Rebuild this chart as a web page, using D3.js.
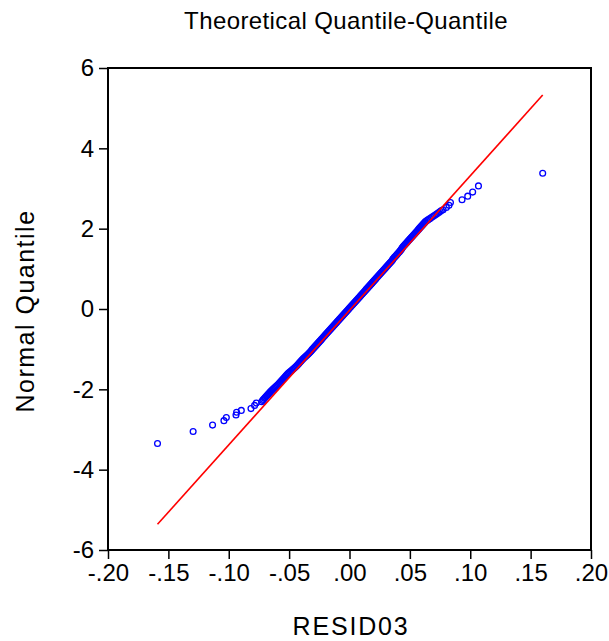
<!DOCTYPE html>
<html>
<head>
<meta charset="utf-8">
<script src="https://cdn.jsdelivr.net/npm/d3@7"></script>
<style>
  body { margin: 0; background: #fff; }
  text { font-family: "Liberation Sans", Arial, sans-serif; fill: #000; }
</style>
</head>
<body>
<div class="svgContainer"></div>
<script>
// Statics
var TITLE = "Theoretical Quantile-Quantile";
var X_LABEL = "RESID03";
var Y_LABEL = "Normal Quantile";
var X_TICKS = [-0.20, -0.15, -0.10, -0.05, 0.00, 0.05, 0.10, 0.15, 0.20];
var Y_TICKS = [-6, -4, -2, 0, 2, 4, 6];

// Lower tail outliers: residual / normal quantile pairs
var TAIL_LO_X = [-0.159, -0.1295, -0.1134, -0.104, -0.102, -0.094, -0.0935, -0.0896, -0.0816, -0.0786, -0.0772, -0.0728];
var TAIL_LO_Y = [-3.35, -3.05, -2.89, -2.78, -2.70, -2.64, -2.57, -2.525, -2.48, -2.40, -2.34, -2.31];

// Dense body of the plot, quantiles -2.275 .. 2.45 every 0.025, residuals read along the band
var BODY_Y = [-2.275, -2.25, -2.225, -2.2, -2.175, -2.15, -2.125, -2.1, -2.075, -2.05, -2.025, -2.0,
    -1.975, -1.95, -1.925, -1.9, -1.875, -1.85, -1.825, -1.8, -1.775, -1.75, -1.725, -1.7,
    -1.675, -1.65, -1.625, -1.6, -1.575, -1.55, -1.525, -1.5, -1.475, -1.45, -1.425, -1.4,
    -1.375, -1.35, -1.325, -1.3, -1.275, -1.25, -1.225, -1.2, -1.175, -1.15, -1.125, -1.1,
    -1.075, -1.05, -1.025, -1.0, -0.975, -0.95, -0.925, -0.9, -0.875, -0.85, -0.825, -0.8,
    -0.775, -0.75, -0.725, -0.7, -0.675, -0.65, -0.625, -0.6, -0.575, -0.55, -0.525, -0.5,
    -0.475, -0.45, -0.425, -0.4, -0.375, -0.35, -0.325, -0.3, -0.275, -0.25, -0.225, -0.2,
    -0.175, -0.15, -0.125, -0.1, -0.075, -0.05, -0.025, 0.0, 0.025, 0.05, 0.075, 0.1,
    0.125, 0.15, 0.175, 0.2, 0.225, 0.25, 0.275, 0.3, 0.325, 0.35, 0.375, 0.4,
    0.425, 0.45, 0.475, 0.5, 0.525, 0.55, 0.575, 0.6, 0.625, 0.65, 0.675, 0.7,
    0.725, 0.75, 0.775, 0.8, 0.825, 0.85, 0.875, 0.9, 0.925, 0.95, 0.975, 1.0,
    1.025, 1.05, 1.075, 1.1, 1.125, 1.15, 1.175, 1.2, 1.225, 1.25, 1.275, 1.3,
    1.325, 1.35, 1.375, 1.4, 1.425, 1.45, 1.475, 1.5, 1.525, 1.55, 1.575, 1.6,
    1.625, 1.65, 1.675, 1.7, 1.725, 1.75, 1.775, 1.8, 1.825, 1.85, 1.875, 1.9,
    1.925, 1.95, 1.975, 2.0, 2.025, 2.05, 2.075, 2.1, 2.125, 2.15, 2.175, 2.2,
    2.225, 2.25, 2.275, 2.3, 2.325, 2.35, 2.375, 2.4, 2.425, 2.45];
var BODY_X = [-0.0719, -0.0712, -0.0704, -0.0697, -0.0689, -0.0682, -0.0674, -0.0667, -0.0659, -0.0652, -0.0643, -0.0635,
    -0.0626, -0.0617, -0.0608, -0.0599, -0.0590, -0.0582, -0.0575, -0.0567, -0.0560, -0.0552, -0.0545, -0.0537,
    -0.0530, -0.0523, -0.0515, -0.0508, -0.0498, -0.0488, -0.0478, -0.0469, -0.0459, -0.0450, -0.0441, -0.0433,
    -0.0425, -0.0418, -0.0411, -0.0403, -0.0396, -0.0388, -0.0380, -0.0371, -0.0362, -0.0353, -0.0344, -0.0336,
    -0.0328, -0.0320, -0.0313, -0.0306, -0.0298, -0.0291, -0.0283, -0.0276, -0.0268, -0.0261, -0.0253, -0.0246,
    -0.0238, -0.0231, -0.0223, -0.0216, -0.0208, -0.0201, -0.0194, -0.0186, -0.0179, -0.0171, -0.0164, -0.0156,
    -0.0149, -0.0141, -0.0134, -0.0126, -0.0119, -0.0111, -0.0104, -0.0097, -0.0089, -0.0082, -0.0074, -0.0067,
    -0.0059, -0.0052, -0.0044, -0.0037, -0.0029, -0.0022, -0.0014, -0.0007, 0.0000, 0.0008, 0.0015, 0.0023,
    0.0030, 0.0038, 0.0045, 0.0053, 0.0060, 0.0068, 0.0075, 0.0083, 0.0090, 0.0097, 0.0105, 0.0112,
    0.0120, 0.0127, 0.0135, 0.0142, 0.0150, 0.0157, 0.0165, 0.0172, 0.0180, 0.0187, 0.0194, 0.0202,
    0.0209, 0.0217, 0.0224, 0.0232, 0.0239, 0.0247, 0.0254, 0.0262, 0.0269, 0.0277, 0.0284, 0.0292,
    0.0299, 0.0306, 0.0314, 0.0321, 0.0329, 0.0336, 0.0344, 0.0351, 0.0357, 0.0361, 0.0369, 0.0376,
    0.0384, 0.0391, 0.0398, 0.0406, 0.0413, 0.0420, 0.0426, 0.0432, 0.0437, 0.0443, 0.0450, 0.0458,
    0.0465, 0.0473, 0.0480, 0.0487, 0.0495, 0.0502, 0.0510, 0.0517, 0.0525, 0.0532, 0.0540, 0.0547,
    0.0555, 0.0562, 0.0570, 0.0577, 0.0584, 0.0592, 0.0599, 0.0607, 0.0614, 0.0622, 0.0629, 0.0640,
    0.0652, 0.0665, 0.0678, 0.0690, 0.0703, 0.0715, 0.0727, 0.0739, 0.0750, 0.0761];

// Upper tail outliers
var TAIL_HI_X = [0.0775, 0.0802, 0.0824, 0.0836, 0.0932, 0.0979, 0.102, 0.1068, 0.160];
var TAIL_HI_Y = [2.47, 2.53, 2.58, 2.65, 2.72, 2.81, 2.91, 3.065, 3.38];

// Reference normal line: quantile = (resid - mean) / sd
var LINE_MEAN = 0.001;
var LINE_SD = 0.02985;
// End statics

var W = 609, H = 641;
var margin = {left: 108, right: 18, top: 68, bottom: 91},
    width = W - margin.left - margin.right,
    height = H - margin.top - margin.bottom;

var svg = d3.select(".svgContainer").append("svg")
    .attr("width", W)
    .attr("height", H);

var g = svg.append("g")
    .attr("transform", "translate(" + margin.left + "," + margin.top + ")");

var scaleX = d3.scaleLinear().domain([-0.2, 0.2]).range([0, width]);
var scaleY = d3.scaleLinear().domain([-6, 6]).range([height, 0]);

// Put the three pieces together into one sorted sample
var RESID = TAIL_LO_X.concat(BODY_X, TAIL_HI_X);
var QUANT = TAIL_LO_Y.concat(BODY_Y, TAIL_HI_Y);
var points = RESID.map(function(r, i) { return {x: r, y: QUANT[i]}; });

g.selectAll("circle.pt")
    .data(points)
    .enter().append("circle")
    .attr("class", "pt")
    .attr("cx", function(d) { return scaleX(d.x); })
    .attr("cy", function(d) { return scaleY(d.y); })
    .attr("r", 2.9)
    .attr("fill", "none")
    .attr("stroke", "#0000ff")
    .attr("stroke-width", 1.3);

// Red theoretical line over the data range
var xmin = d3.min(RESID), xmax = d3.max(RESID);
g.append("line")
    .attr("x1", scaleX(xmin))
    .attr("y1", scaleY((xmin - LINE_MEAN) / LINE_SD))
    .attr("x2", scaleX(xmax))
    .attr("y2", scaleY((xmax - LINE_MEAN) / LINE_SD))
    .attr("stroke", "#ff0000")
    .attr("stroke-width", 1.6);

// Frame
g.append("rect")
    .attr("x", 0).attr("y", 0)
    .attr("width", width).attr("height", height)
    .attr("fill", "none")
    .attr("stroke", "#000")
    .attr("stroke-width", 2);

// Axes - plain hyphen for negatives, no leading zero on x
function fmtX(d) {
    var s = d3.format(".2f")(Math.abs(d)).replace(/^0/, "");
    return (d < -1e-9 ? "-" : "") + s;
}
function fmtY(d) {
    return String(d);
}

var xAxis = g.append("g")
    .attr("transform", "translate(0," + height + ")")
    .call(d3.axisBottom(scaleX).tickValues(X_TICKS).tickFormat(fmtX).tickSize(9).tickPadding(5));

var yAxis = g.append("g")
    .call(d3.axisLeft(scaleY).tickValues(Y_TICKS).tickFormat(fmtY).tickSize(9).tickPadding(5));

[xAxis, yAxis].forEach(function(a) {
    a.select(".domain").remove();
    a.selectAll(".tick line").attr("stroke", "#000").attr("stroke-width", 1.5);
    a.selectAll(".tick text")
        .style("font-family", "'Liberation Sans', Arial, sans-serif")
        .style("font-size", "24px")
        .attr("fill", "#000");
});

// Titles
svg.append("text")
    .attr("x", 346).attr("y", 29)
    .attr("text-anchor", "middle")
    .style("font-size", "24px")
    .style("letter-spacing", "0.4px")
    .text(TITLE);

svg.append("text")
    .attr("x", 351).attr("y", 635)
    .attr("text-anchor", "middle")
    .style("font-size", "25px")
    .style("letter-spacing", "1.8px")
    .text(X_LABEL);

svg.append("text")
    .attr("transform", "translate(34,311) rotate(-90)")
    .attr("text-anchor", "middle")
    .style("font-size", "25px")
    .style("letter-spacing", "1.5px")
    .text(Y_LABEL);
</script>
</body>
</html>
